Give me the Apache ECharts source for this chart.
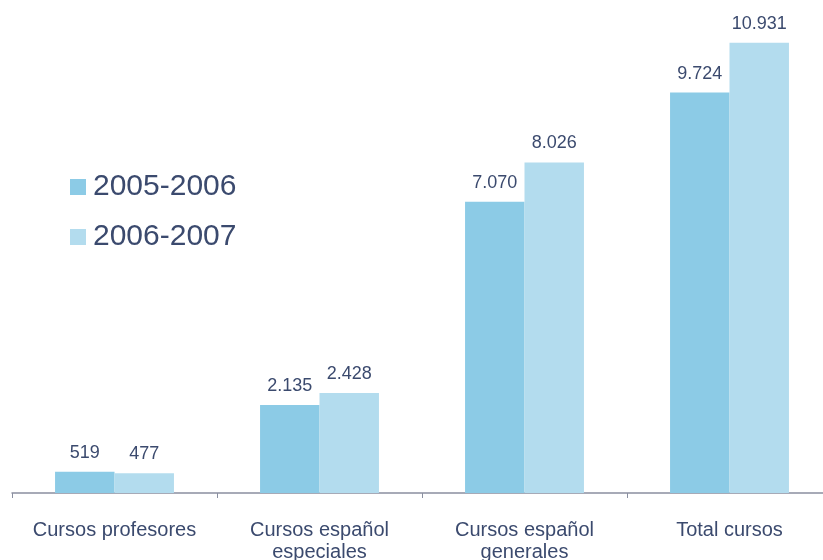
<!DOCTYPE html>
<html><head><meta charset="utf-8">
<script src="https://cdn.jsdelivr.net/npm/echarts@6/dist/echarts.min.js"></script>
<style>html,body{margin:0;padding:0;background:#fff}#c{width:823px;height:560px}</style>
</head><body><div id="c"></div>
<script>
const categories = ['Cursos profesores', 'Cursos español\nespeciales', 'Cursos español\ngenerales', 'Total cursos'];
const seriesNames = ['2005-2006', '2006-2007'];
const values2005 = [519, 2135, 7070, 9724];
const values2006 = [477, 2428, 8026, 10931];
const colors = ['#8ccbe6', '#b3dcee'];
const textColor = '#3b4a6e';

function fmt(v) {
  return String(v).replace(/\B(?=(\d{3})+(?!\d))/g, '.');
}

const chart = echarts.init(document.getElementById('c'), null, {renderer: 'canvas'});
const label = {
  show: true, position: 'top', distance: 10,
  color: textColor, fontSize: 18, fontFamily: 'Liberation Sans, Arial, sans-serif',
  formatter: p => fmt(p.value)
};
chart.setOption({
  animation: false,
  textStyle: {fontFamily: 'Liberation Sans, Arial, sans-serif'},
  legend: {
    orient: 'vertical', left: 70, top: 172, padding: 0,
    itemWidth: 16, itemHeight: 16, itemGap: 20,
    icon: 'rect',
    textStyle: {color: textColor, fontSize: 30, padding: [0, 0, 0, 2]},
    data: seriesNames
  },
  grid: {left: 12, top: 40, width: 820, height: 453, containLabel: false, outerBoundsMode: 'none'},
  xAxis: {
    type: 'category', data: categories,
    axisLine: {lineStyle: {color: '#8a8fa0', width: 1.5}},
    axisTick: {show: true, length: 5, lineStyle: {color: '#8a8fa0'}, alignWithLabel: false},
    axisLabel: {color: textColor, fontSize: 20, margin: 26, lineHeight: 22, interval: 0}
  },
  yAxis: {type: 'value', min: 0, max: 11000, show: false, splitLine: {show: false}},
  series: [
    {name: seriesNames[0], type: 'bar', data: values2005, barGap: '0%', barCategoryGap: '42%',
     itemStyle: {color: colors[0]}, label: label},
    {name: seriesNames[1], type: 'bar', data: values2006, barGap: '0%', barCategoryGap: '42%',
     itemStyle: {color: colors[1]}, label: label}
  ]
});
</script></body></html>
